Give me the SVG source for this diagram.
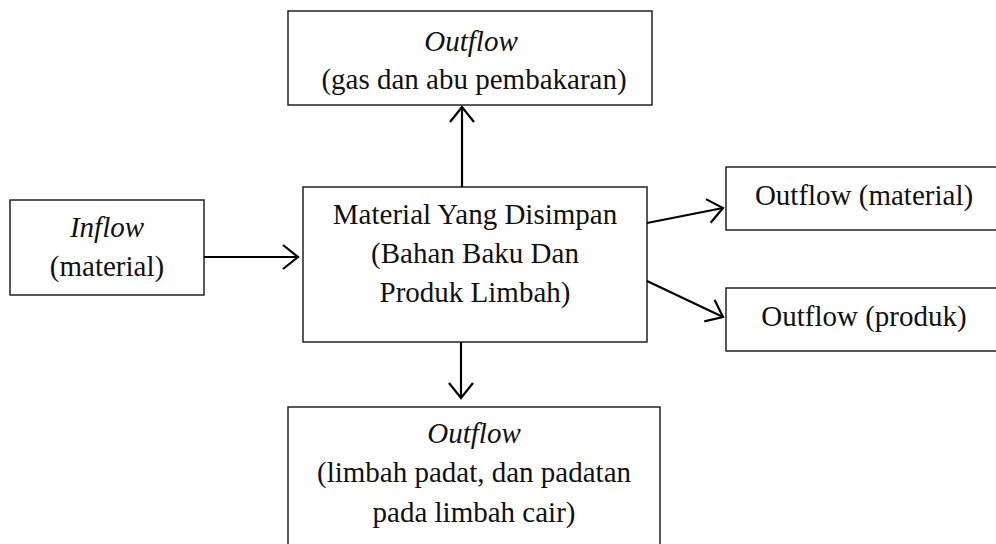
<svg xmlns="http://www.w3.org/2000/svg" width="996" height="544" viewBox="0 0 996 544">
<style>
.box{fill:#fff;stroke:#222;stroke-width:1.5}
.t{font-family:"Liberation Serif","Times New Roman",serif;font-size:29px;fill:#111;text-anchor:middle}
.i{font-style:italic}
.c{stroke:#000;stroke-width:2.2;fill:none}
</style>
<defs>
<marker id="arr" viewBox="0 0 18 26" refX="16" refY="13" markerWidth="18" markerHeight="26" markerUnits="userSpaceOnUse" orient="auto">
<path d="M1,1 L16,13 L1,25" fill="none" stroke="#000" stroke-width="2.2"/>
</marker>
</defs>
<rect width="996" height="544" fill="#fff"/>
<g id="top">
<rect class="box" x="288" y="11" width="364" height="94"/>
<text class="t i" x="471" y="51">Outflow</text>
<text class="t" x="474" y="89">(gas dan abu pembakaran)</text>
</g>
<g id="inflow">
<rect class="box" x="10" y="200" width="194" height="95"/>
<text class="t i" x="107" y="237">Inflow</text>
<text class="t" x="107" y="276">(material)</text>
</g>
<g id="center">
<rect class="box" x="303" y="187" width="344" height="155"/>
<text class="t" x="475" y="224">Material Yang Disimpan</text>
<text class="t" x="475" y="263">(Bahan Baku Dan</text>
<text class="t" x="475" y="302">Produk Limbah)</text>
</g>
<g id="material">
<rect class="box" x="726" y="167" width="280" height="63"/>
<text class="t" x="864" y="205">Outflow (material)</text>
</g>
<g id="produk">
<rect class="box" x="726" y="288" width="280" height="63"/>
<text class="t" x="864" y="326">Outflow (produk)</text>
</g>
<g id="bottom">
<rect class="box" x="288" y="407" width="372" height="150"/>
<text class="t i" x="474" y="443">Outflow</text>
<text class="t" x="474" y="482">(limbah padat, dan padatan</text>
<text class="t" x="474" y="522">pada limbah cair)</text>
</g>
<g id="connectors">
<line class="c" x1="204" y1="257" x2="298" y2="257" marker-end="url(#arr)"/>
<line class="c" x1="462" y1="187" x2="462" y2="107" marker-end="url(#arr)"/>
<line class="c" x1="461" y1="342" x2="461" y2="398" marker-end="url(#arr)"/>
<line class="c" x1="647" y1="223" x2="723" y2="208" marker-end="url(#arr)"/>
<line class="c" x1="647" y1="281" x2="723" y2="317" marker-end="url(#arr)"/>
</g>
</svg>
